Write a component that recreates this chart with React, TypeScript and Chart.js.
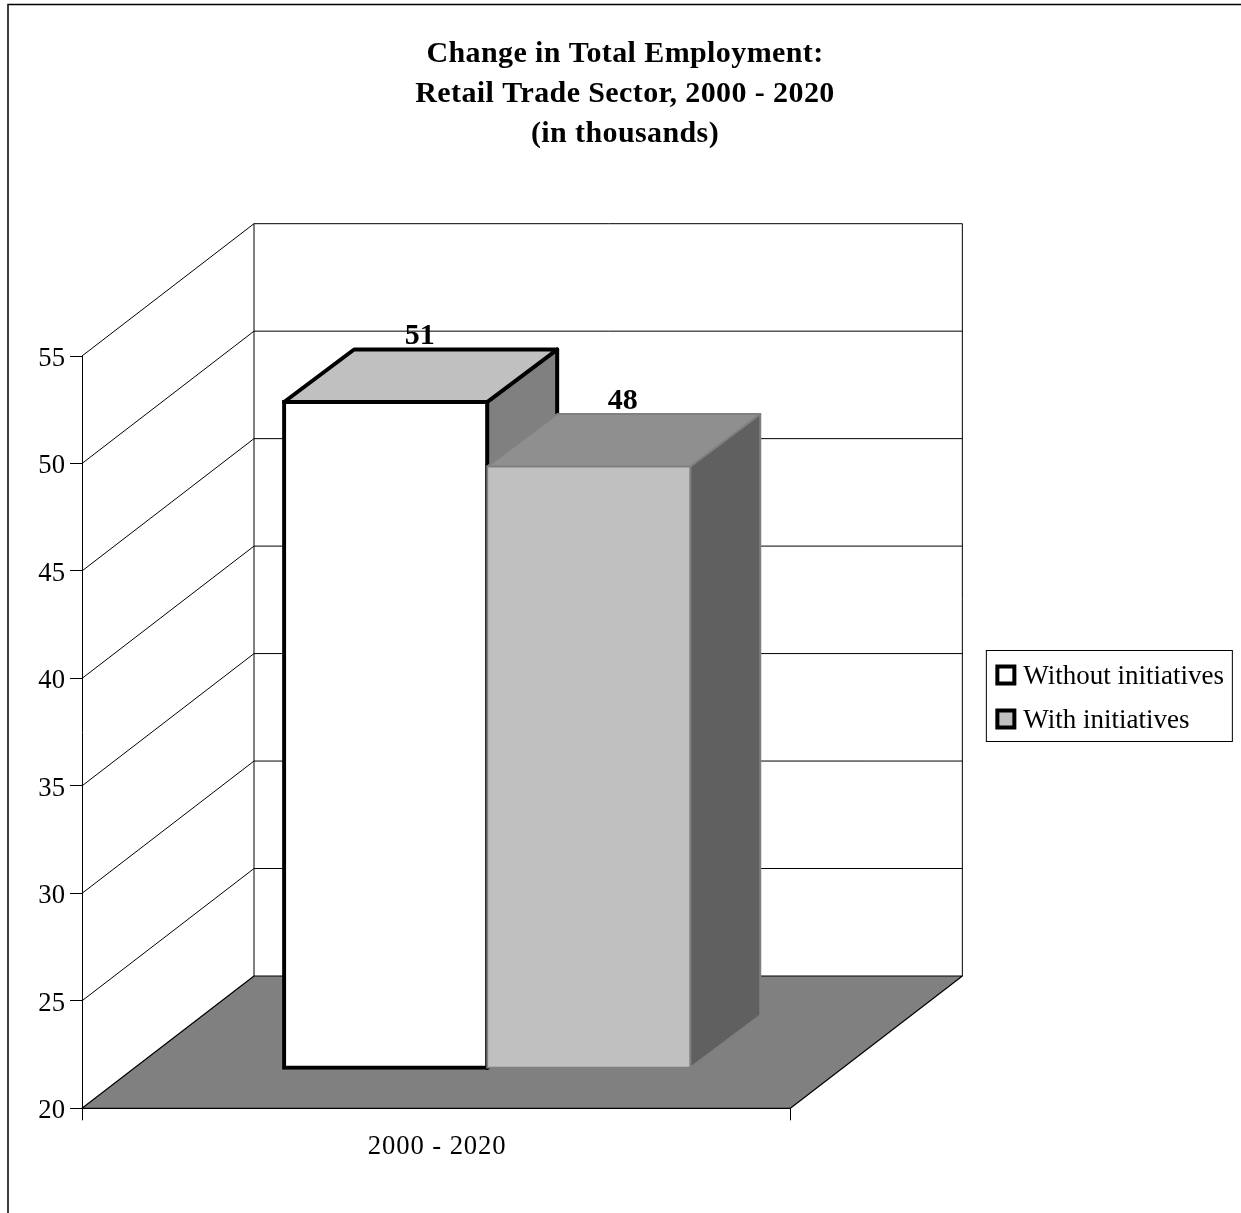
import React, { useEffect, useRef } from "react";
import { Chart, registerables } from "chart.js";

Chart.register(...registerables);

const categories = ["2000 - 2020"];
const seriesNames = ["Without initiatives", "With initiatives"];
const valuesWithout = [51];
const valuesWith = [48];
const titleLines = [
  "Change in Total Employment:",
  "Retail Trade Sector, 2000 - 2020",
  "(in thousands)",
];

const SERIF = "'Liberation Serif', 'Times New Roman', serif";
const CANVAS_W = 1241;
const CANVAS_H = 1397;

// Oblique projection of the box: wall depth, the bars' inset on the floor, the bars' own depth.
const WALL = { x: 172, y: -132.3 };
const INSET = { x: 51, y: -40 };
const BAR_DEPTH = { x: 70, y: -52.5 };

const barFaces = [
  { top: "#c0c0c0", side: "#808080", edge: "#000000", edgeWidth: 4 },
  { top: "#8f8f8f", side: "#606060", edge: "#808080", edgeWidth: 2 },
];

function poly(
  ctx: CanvasRenderingContext2D,
  pts: number[][],
  fill?: string,
  stroke?: string,
  lw = 1
) {
  ctx.beginPath();
  pts.forEach(([x, y], i) => (i ? ctx.lineTo(x, y) : ctx.moveTo(x, y)));
  ctx.closePath();
  if (fill) {
    ctx.fillStyle = fill;
    ctx.fill();
  }
  if (stroke) {
    ctx.strokeStyle = stroke;
    ctx.lineWidth = lw;
    ctx.lineJoin = "round";
    ctx.stroke();
  }
}

function line(ctx: CanvasRenderingContext2D, x1: number, y1: number, x2: number, y2: number) {
  ctx.beginPath();
  ctx.moveTo(x1, y1);
  ctx.lineTo(x2, y2);
  ctx.stroke();
}

// Runs one text-drawing method of a layout box with its own tracking and nudge.
function adjustText(owner: any, method: string, spacing: number, dx: number, dy: number) {
  const original = owner[method];
  if (owner.__textAdjusted) return;
  owner.__textAdjusted = true;
  owner[method] = function (...args: any[]) {
    const ctx = owner.ctx;
    ctx.save();
    ctx.letterSpacing = `${spacing}px`;
    ctx.translate(dx, dy);
    original.apply(owner, args);
    ctx.restore();
    ctx.letterSpacing = "0px";
  };
}

const textTuningPlugin = {
  id: "textTuning",
  afterLayout(chart: any) {
    adjustText(chart.titleBlock, "draw", 0.4, 0, 0);
    adjustText(chart.scales.x, "drawLabels", 0.9, 1, 0);
    adjustText(chart.scales.y, "drawLabels", 0, 0, 3);
  },
};

// Outer frame of the whole figure; its right and bottom edges run off the page.
const framePlugin = {
  id: "frame",
  beforeDraw(chart: any) {
    const ctx = chart.ctx;
    ctx.save();
    ctx.fillStyle = "#ffffff";
    ctx.fillRect(0, 0, chart.width, chart.height);
    ctx.strokeStyle = "#000000";
    ctx.lineWidth = 1.5;
    ctx.strokeRect(8, 4.5, chart.width + 20, chart.height + 20);
    ctx.restore();
  },
};

// Walls, floor and the extruded bars, all projected from the chart's own scales.
const box3dPlugin = {
  id: "box3d",
  beforeDatasetsDraw(chart: any) {
    const ctx = chart.ctx;
    const { left, right, top, bottom } = chart.chartArea;
    const yScale = chart.scales.y;

    ctx.save();
    ctx.strokeStyle = "#000000";
    ctx.lineWidth = 1;

    // Floor
    poly(
      ctx,
      [
        [left, bottom],
        [right, bottom],
        [right + WALL.x, bottom + WALL.y],
        [left + WALL.x, bottom + WALL.y],
      ],
      "#808080",
      "#000000",
      1.2
    );

    // Side wall and back wall gridlines
    ctx.strokeStyle = "#000000";
    ctx.lineWidth = 1;
    yScale.ticks.forEach((t: any) => {
      const y = yScale.getPixelForValue(t.value);
      if (t.value === yScale.min) return;
      line(ctx, left, y, left + WALL.x, y + WALL.y);
      line(ctx, left + WALL.x, y + WALL.y, right + WALL.x, y + WALL.y);
    });
    line(ctx, left + WALL.x, top + WALL.y, left + WALL.x, bottom + WALL.y);
    line(ctx, right + WALL.x, top + WALL.y, right + WALL.x, bottom + WALL.y);

    // Bars in series order, so the second one overlaps the first one's side face
    chart.data.datasets.forEach((ds: any, i: number) => {
      const meta = chart.getDatasetMeta(i);
      const face = barFaces[i];
      ctx.save();
      ctx.translate(INSET.x, INSET.y);
      meta.data.forEach((bar: any) => {
        const l = bar.x - bar.width / 2;
        const r = bar.x + bar.width / 2;
        const t = bar.y;
        const b = bar.base;
        const dx = BAR_DEPTH.x;
        const dy = BAR_DEPTH.y;
        poly(
          ctx,
          [
            [r, t],
            [r + dx, t + dy],
            [r + dx, b + dy],
            [r, b],
          ],
          face.side,
          face.edge,
          face.edgeWidth
        );
        poly(
          ctx,
          [
            [l, t],
            [l + dx, t + dy],
            [r + dx, t + dy],
            [r, t],
          ],
          face.top,
          face.edge,
          face.edgeWidth
        );
      });
      meta.controller.draw();
      ctx.restore();
    });

    // Value labels above each bar's top face
    ctx.fillStyle = "#000000";
    ctx.font = `bold 30px ${SERIF}`;
    ctx.textAlign = "center";
    ctx.textBaseline = "alphabetic";
    chart.data.datasets.forEach((ds: any, i: number) => {
      const meta = chart.getDatasetMeta(i);
      meta.data.forEach((bar: any, j: number) => {
        ctx.fillText(
          String(ds.data[j]),
          bar.x + INSET.x + 34,
          bar.y + INSET.y + BAR_DEPTH.y - 5
        );
      });
    });
    ctx.restore();
    return false;
  },
};

// Frame and square swatches for the legend
const legendFramePlugin = {
  id: "legendFrame",
  afterDraw(chart: any) {
    const ctx = chart.ctx;
    const hits = chart.legend.legendHitBoxes;
    const items = chart.legend.legendItems;
    const x0 = hits[0].left;
    const c0 = hits[0].top + hits[0].height / 2;
    const c1 = hits[1].top + hits[1].height / 2;
    ctx.save();
    ctx.strokeStyle = "#000000";
    ctx.lineWidth = 1;
    ctx.strokeRect(x0 - 9.5, c0 - 26, 246, 91);
    [c0, c1].forEach((c, i) => {
      ctx.fillStyle = items[i].fillStyle;
      ctx.strokeStyle = "#000000";
      ctx.lineWidth = 4;
      ctx.fillRect(x0 + 1.5, c - 10, 17, 17);
      ctx.strokeRect(x0 + 1.5, c - 10, 17, 17);
    });
    ctx.restore();
  },
};

export default function App() {
  const ref = useRef<HTMLCanvasElement>(null);

  useEffect(() => {
    if (!ref.current) return;
    const chart = new Chart(ref.current, {
      type: "bar",
      data: {
        labels: categories,
        datasets: [
          {
            label: seriesNames[0],
            data: valuesWithout,
            base: 20,
            backgroundColor: "#ffffff",
            borderColor: "#000000",
            borderWidth: 4,
            borderSkipped: false,
            inflateAmount: 2,
          },
          {
            label: seriesNames[1],
            data: valuesWith,
            base: 20,
            backgroundColor: "#c0c0c0",
            borderColor: "#808080",
            borderWidth: 2,
            borderSkipped: false,
            inflateAmount: 1,
          },
        ],
      },
      options: {
        responsive: false,
        animation: false,
        devicePixelRatio: 1,
        layout: { padding: { left: 16, right: 7, top: 0, bottom: 0 } },
        datasets: { bar: { barPercentage: 1, categoryPercentage: 406 / 708 } },
        scales: {
          x: {
            grid: {
              drawOnChartArea: false,
              tickLength: 12,
              color: "#000000",
              lineWidth: 1,
            },
            border: { color: "#000000", width: 1 },
            ticks: {
              color: "#000000",
              padding: 11,
              font: { family: SERIF, size: 26.67 },
            },
            afterFit(scale: any) {
              scale.height = 288.7;
            },
          },
          y: {
            min: 20,
            max: 55,
            grid: {
              drawOnChartArea: false,
              tickLength: 12,
              color: "#000000",
              lineWidth: 1,
            },
            border: { color: "#000000", width: 1 },
            ticks: {
              stepSize: 5,
              color: "#000000",
              padding: 5,
              font: { family: SERIF, size: 26.67 },
            },
            afterFit(scale: any) {
              scale.width = 66;
            },
          },
          // Empty axis that holds the plot's right edge clear of the legend
          spacer: {
            type: "linear",
            position: "right",
            ticks: { display: false },
            grid: { display: false },
            border: { display: false },
            afterFit(scale: any) {
              scale.width = 188.5;
            },
          },
        },
        plugins: {
          title: {
            display: true,
            text: titleLines,
            color: "#000000",
            font: { family: SERIF, size: 30, weight: "bold", lineHeight: 40 / 30 },
            padding: { top: 34.65, bottom: 201.35 },
          },
          legend: {
            position: "right",
            maxWidth: 280,
            labels: {
              color: "#000000",
              boxWidth: 14,
              boxHeight: 14,
              padding: 17,
              font: { family: SERIF, size: 27 },
              // Square swatches are drawn separately with a uniform heavy outline
              generateLabels: (c: any) =>
                Chart.defaults.plugins.legend.labels
                  .generateLabels(c)
                  .map((item: any) => ({ ...item, lineWidth: 0 })),
            },
          },
          tooltip: { enabled: false },
        },
      },
      plugins: [textTuningPlugin, framePlugin, box3dPlugin, legendFramePlugin],
    } as any);
    return () => chart.destroy();
  }, []);

  return (
    <div
      style={{
        position: "fixed",
        left: 0,
        top: 0,
        width: 1241,
        height: 1213,
        overflow: "hidden",
        background: "#ffffff",
      }}
    >
      <canvas ref={ref} width={CANVAS_W} height={CANVAS_H} style={{ display: "block" }} />
    </div>
  );
}
